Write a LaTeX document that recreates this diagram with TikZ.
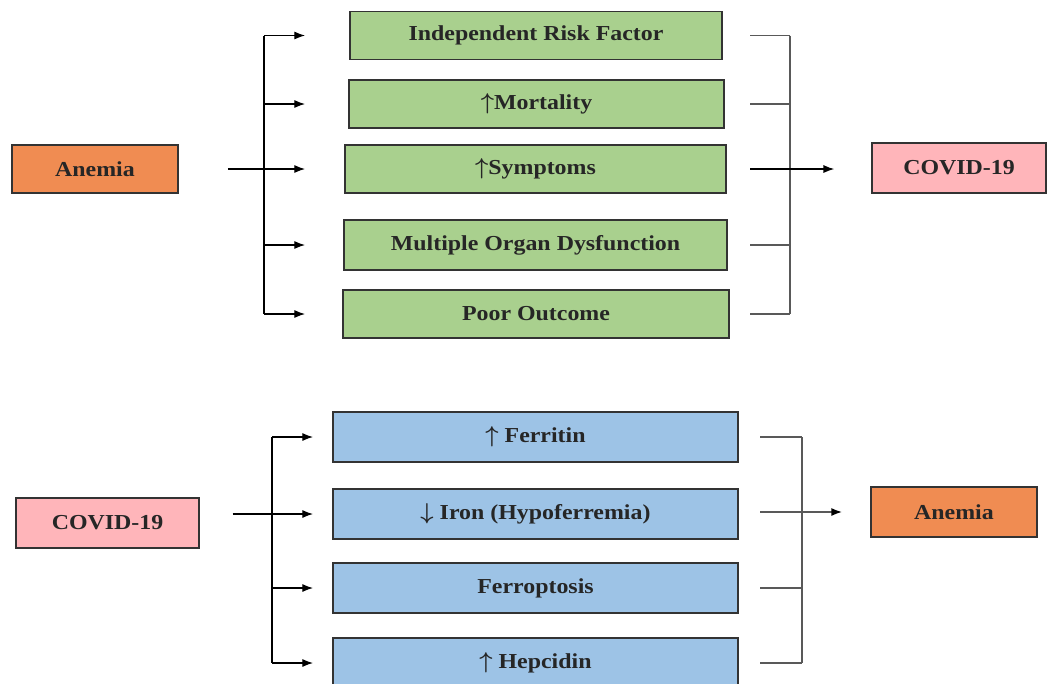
\documentclass[tikz,border=0pt]{standalone}
\usepackage{fontspec}
\setmainfont[FakeStretch=1.12]{Liberation Serif}
\usepackage{tikz}
\usetikzlibrary{positioning}
\usetikzlibrary{arrows.meta}

\definecolor{boxgreen}{RGB}{169,208,142}
\definecolor{boxblue}{RGB}{157,195,230}
\definecolor{boxorange}{RGB}{240,140,82}
\definecolor{boxpink}{RGB}{255,181,186}

\newcommand{\up}{{\boldmath$\uparrow$}}
\newcommand{\down}{{\boldmath$\downarrow$}}

\begin{document}
\begin{tikzpicture}[x=0.75pt, y=-0.75pt, >={Latex[length=8pt,width=6pt]},
    E/.style={draw=black!80, line width=1.3pt, rectangle, minimum height=36pt, inner sep=0pt,
        font=\bfseries\fontsize{16}{18}\selectfont, text=black!85},
    G/.style={E, fill=boxgreen},
    B/.style={E, fill=boxblue, minimum width=303.75pt, minimum height=37.5pt},
    A/.style={E, fill=boxorange, minimum width=124.5pt},
    C/.style={E, fill=boxpink},
    L/.style={black, line width=0.8pt},
    R/.style={black!65, line width=1.3pt}]
    \useasboundingbox (0,0) rectangle (1048,683);

    % anemia -> covid
    \node[A] (an0) at (95,169) {Anemia};
    \node[G, minimum width=279pt] (g0) at (536,35.5) {Independent Risk Factor};
    \node[G, minimum width=281pt] (g1) at (536.5,104) {\up Mortality};
    \node[G, minimum width=286pt] (g2) at (535.5,169) {\up Symptoms};
    \node[G, minimum width=287pt, minimum height=37.5pt] (g3) at (535.5,245) {Multiple Organ Dysfunction};
    \node[G, minimum width=289.5pt] (g4) at (536,314) {Poor Outcome};
    \node[C, minimum width=130.5pt, minimum height=37.5pt] (cv0) at (959,168) {COVID-19};

    \coordinate (s0) at (264,0);
    \coordinate (t0) at (305,0);
    \coordinate (r0) at (750,0);
    \coordinate (s1) at (790,0);

    \draw[L] (s0 |- g0) -- (s0 |- g4);
    \foreach \n in {g0,g1,g3,g4}
        \draw[L, ->] (s0 |- \n) -- (t0 |- \n);
    \draw[L, ->, shorten <=36.75pt] (an0) -- (t0 |- an0);

    \foreach \n in {g0,g1,g3,g4}
        \draw[R] (r0 |- \n) -- (s1 |- \n);
    \draw[R] (s1 |- g0) -- (s1 |- g4);
    \draw[L, ->, shorten >=27.75pt] (r0 |- g2) -- (cv0.west |- g2);

    % covid -> anemia
    \node[C, minimum width=137pt, minimum height=37.5pt] (cv1) at (107.5,523) {COVID-19};
    \node[B] (b0) at (535.5,437) {\up\ Ferritin};
    \node[B] (b1) at (535.5,514) {\down\ Iron (Hypoferremia)};
    \node[B] (b2) at (535.5,588) {Ferroptosis};
    \node[B] (b3) at (535.5,663) {\up\ Hepcidin};
    \node[A, minimum height=37.5pt] (an1) at (954,512) {Anemia};

    \coordinate (s2) at (272,0);
    \coordinate (t1) at (313,0);
    \coordinate (r1) at (760,0);
    \coordinate (s3) at (802,0);

    \draw[L] (s2 |- b0) -- (s2 |- b3);
    \foreach \n in {b0,b2,b3}
        \draw[L, ->] (s2 |- \n) -- (t1 |- \n);
    \draw[L, ->, shorten <=24.75pt] (cv1.east |- b1) -- (t1 |- b1);

    \foreach \n in {b0,b2,b3}
        \draw[R] (r1 |- \n) -- (s3 |- \n);
    \draw[R] (s3 |- b0) -- (s3 |- b3);
    \draw[R, -{Latex[length=8pt,width=6pt,black]}, shorten >=21pt] (r1 |- an1) -- (an1);
\end{tikzpicture}
\end{document}
